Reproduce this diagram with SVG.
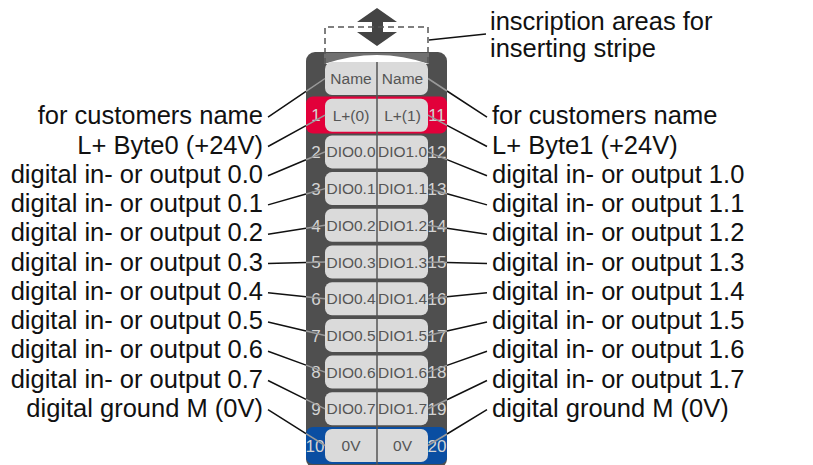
<svg xmlns="http://www.w3.org/2000/svg" width="813" height="465" viewBox="0 0 813 465">
<style>
.lbl{font-family:"Liberation Sans",Arial,sans-serif;font-size:25.5px;fill:#111}
.l{text-anchor:end}
.pin{font-family:"Liberation Sans",Arial,sans-serif;font-size:15.5px;fill:#555;text-anchor:middle}
.num{font-family:"Liberation Sans",Arial,sans-serif;font-size:17px;fill:#d4d4d4;text-anchor:middle}
.box{fill:#dadada}
.ln{stroke:#111;stroke-width:1.5;fill:none}
.lg{stroke:#9a9a9a;stroke-width:1.5;fill:none}
</style>
<rect width="813" height="465" fill="#fff"/>
<g id="module">
<rect x="306" y="52" width="141" height="416" rx="9" fill="#4f4f4f"/>
<rect x="324" y="53" width="105" height="11" fill="#707070"/>
<path d="M324 64 Q377 46 429 64 Z" fill="#fff"/>
<rect x="306" y="96.5" width="141" height="37" rx="7" fill="#e2003a"/>
<rect x="306" y="427" width="141" height="37" rx="7" fill="#0a4ea2"/>
</g>
<g id="insert-arrow">
<polygon points="377,8 397,22 383,22 383,32 397,32 377,46 357,32 372,32 372,22 357,22" fill="#444"/>
<path d="M325 64 V27 H428 V64" fill="none" stroke="#555" stroke-width="1.5" stroke-dasharray="6 4"/>
</g>
<g id="terminals">
<g id="row0"><rect class="box" x="325" y="62" width="103" height="33" rx="7"/><text class="pin" x="351" y="84">Name</text><text class="pin" x="402.5" y="84">Name</text></g>
<g id="row1"><rect class="box" x="325" y="98.7" width="103" height="33" rx="7"/><text class="pin" x="351" y="120.7">L+(0)</text><text class="pin" x="402.5" y="120.7">L+(1)</text><text class="num" x="316" y="121.4" fill="#f4c8d2">1</text><text class="num" x="437" y="121.4" fill="#f4c8d2">11</text></g>
<g id="row2"><rect class="box" x="325" y="135.4" width="103" height="33" rx="7"/><text class="pin" x="351" y="157.4">DIO0.0</text><text class="pin" x="402.5" y="157.4">DIO1.0</text><text class="num" x="316" y="158.1">2</text><text class="num" x="437" y="158.1">12</text></g>
<g id="row3"><rect class="box" x="325" y="172.1" width="103" height="33" rx="7"/><text class="pin" x="351" y="194.1">DIO0.1</text><text class="pin" x="402.5" y="194.1">DIO1.1</text><text class="num" x="316" y="194.8">3</text><text class="num" x="437" y="194.8">13</text></g>
<g id="row4"><rect class="box" x="325" y="208.8" width="103" height="33" rx="7"/><text class="pin" x="351" y="230.8">DIO0.2</text><text class="pin" x="402.5" y="230.8">DIO1.2</text><text class="num" x="316" y="231.5">4</text><text class="num" x="437" y="231.5">14</text></g>
<g id="row5"><rect class="box" x="325" y="245.5" width="103" height="33" rx="7"/><text class="pin" x="351" y="267.5">DIO0.3</text><text class="pin" x="402.5" y="267.5">DIO1.3</text><text class="num" x="316" y="268.2">5</text><text class="num" x="437" y="268.2">15</text></g>
<g id="row6"><rect class="box" x="325" y="282.2" width="103" height="33" rx="7"/><text class="pin" x="351" y="304.2">DIO0.4</text><text class="pin" x="402.5" y="304.2">DIO1.4</text><text class="num" x="316" y="304.9">6</text><text class="num" x="437" y="304.9">16</text></g>
<g id="row7"><rect class="box" x="325" y="318.9" width="103" height="33" rx="7"/><text class="pin" x="351" y="340.9">DIO0.5</text><text class="pin" x="402.5" y="340.9">DIO1.5</text><text class="num" x="316" y="341.6">7</text><text class="num" x="437" y="341.6">17</text></g>
<g id="row8"><rect class="box" x="325" y="355.6" width="103" height="33" rx="7"/><text class="pin" x="351" y="377.6">DIO0.6</text><text class="pin" x="402.5" y="377.6">DIO1.6</text><text class="num" x="316" y="378.3">8</text><text class="num" x="437" y="378.3">18</text></g>
<g id="row9"><rect class="box" x="325" y="392.3" width="103" height="33" rx="7"/><text class="pin" x="351" y="414.3">DIO0.7</text><text class="pin" x="402.5" y="414.3">DIO1.7</text><text class="num" x="316" y="415">9</text><text class="num" x="437" y="415">19</text></g>
<g id="row10"><rect class="box" x="325" y="429" width="103" height="33" rx="7"/><text class="pin" x="351" y="451">0V</text><text class="pin" x="402.5" y="451">0V</text><text class="num" x="315" y="451.7" fill="#e6ecf6">10</text><text class="num" x="437" y="451.7" fill="#e6ecf6">20</text></g>
<line x1="377" y1="62" x2="377" y2="465" stroke="#555" stroke-width="1.5"/>
</g>
<g id="connectors">
<path class="ln" d="M268 117.2 L306 91.4 M268 146.5 L306 125.6 M268 175.7 L306 159.8 M268 204.9 L306 194 M268 234.2 L306 228.3 M268 263.5 L306 262.5 M268 292.7 L306 296.7 M268 322 L306 330.9 M268 351.2 L306 365.1 M268 380.5 L306 399.4 M268 409.7 L306 433.6"/>
<path class="lg" d="M306 91.4 L325 78.5 M306 125.6 L325 115.2 M306 159.8 L325 151.9 M306 194 L325 188.6 M306 228.3 L325 225.3 M306 262.5 L325 262 M306 296.7 L325 298.7 M306 330.9 L325 335.4 M306 365.1 L325 372.1 M306 399.4 L325 408.8 M306 433.6 L325 445.5"/>
<path class="ln" d="M487 117.2 L447 91 M487 146.5 L447 125.3 M487 175.7 L447 159.6 M487 204.9 L447 193.8 M487 234.2 L447 228.2 M487 263.5 L447 262.5 M487 292.7 L447 296.8 M487 322 L447 331.1 M487 351.2 L447 365.4 M487 380.5 L447 399.7 M487 409.7 L447 434"/>
<path class="lg" d="M447 91 L428 78.5 M447 125.3 L428 115.2 M447 159.6 L428 151.9 M447 193.8 L428 188.6 M447 228.2 L428 225.3 M447 262.5 L428 262 M447 296.8 L428 298.7 M447 331.1 L428 335.4 M447 365.4 L428 372.1 M447 399.7 L428 408.8 M447 434 L428 445.5"/>
<path class="ln" d="M429 40 L486 34"/>
</g>
<g id="labels-left">
<text class="lbl l" x="263" y="124.2">for customers name</text>
<text class="lbl l" x="263" y="153.5">L+ Byte0 (+24V)</text>
<text class="lbl l" x="263" y="182.7">digital in- or output 0.0</text>
<text class="lbl l" x="263" y="211.9">digital in- or output 0.1</text>
<text class="lbl l" x="263" y="241.2">digital in- or output 0.2</text>
<text class="lbl l" x="263" y="270.5">digital in- or output 0.3</text>
<text class="lbl l" x="263" y="299.7">digital in- or output 0.4</text>
<text class="lbl l" x="263" y="329">digital in- or output 0.5</text>
<text class="lbl l" x="263" y="358.2">digital in- or output 0.6</text>
<text class="lbl l" x="263" y="387.5">digital in- or output 0.7</text>
<text class="lbl l" x="263" y="416.7">digital ground M (0V)</text>
</g>
<g id="labels-right">
<text class="lbl" x="490" y="30">inscription areas for</text>
<text class="lbl" x="490" y="57">inserting stripe</text>
<text class="lbl" x="492" y="124.2">for customers name</text>
<text class="lbl" x="492" y="153.5">L+ Byte1 (+24V)</text>
<text class="lbl" x="492" y="182.7">digital in- or output 1.0</text>
<text class="lbl" x="492" y="211.9">digital in- or output 1.1</text>
<text class="lbl" x="492" y="241.2">digital in- or output 1.2</text>
<text class="lbl" x="492" y="270.5">digital in- or output 1.3</text>
<text class="lbl" x="492" y="299.7">digital in- or output 1.4</text>
<text class="lbl" x="492" y="329">digital in- or output 1.5</text>
<text class="lbl" x="492" y="358.2">digital in- or output 1.6</text>
<text class="lbl" x="492" y="387.5">digital in- or output 1.7</text>
<text class="lbl" x="492" y="416.7">digital ground M (0V)</text>
</g>
</svg>
